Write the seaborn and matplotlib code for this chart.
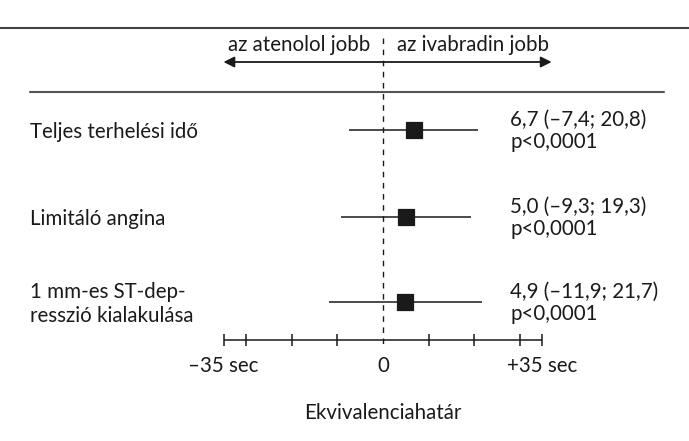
import matplotlib.pyplot as plt
import seaborn as sns
import pandas as pd

# forest plot data (sec)
labels = ['Teljes terhelési idő', 'Limitáló angina', '1 mm-es ST-dep-\nresszió kialakulása']
estimates = [6.7, 5.0, 4.9]
ci_low = [-7.4, -9.3, -11.9]
ci_high = [20.8, 19.3, 21.7]
pvals = ['p<0,0001', 'p<0,0001', 'p<0,0001']
ci_text = ['6,7 (–7,4; 20,8)', '5,0 (–9,3; 19,3)', '4,9 (–11,9; 21,7)']

axis_ticks = [-35, -30, -20, -10, 10, 20, 30, 35]
tick_labels = {-35: '–35 sec', 0: '0', 35: '+35 sec'}

sns.set_style('white')
plt.rcParams['font.family'] = ['Lato', 'DejaVu Sans']

row_y = [130, 217, 302]
df = pd.DataFrame({'label': labels, 'est': estimates, 'lo': ci_low, 'hi': ci_high, 'y': row_y})

fig = plt.figure(figsize=(6.89, 4.41), dpi=100)
ax = fig.add_axes([0, 0, 1, 1])
ppu = 4.557  # pixels per sec
ax.set_xlim(-383 / ppu, (689 - 383) / ppu)
ax.set_ylim(441, 0)
ax.axis('off')

fs = 14.8
ink = '#1a1a1a'

# frame lines
ax.plot([-383 / ppu, (689 - 383) / ppu], [28, 28], color='#444444', lw=1.5, clip_on=False)
ax.plot([(30 - 383) / ppu, (664 - 383) / ppu], [92, 92], color='#555555', lw=1.5)

# zero line
ax.vlines(0, 38, 345, colors=ink, linestyles=(0, (4, 4)), lw=1)

# direction arrow
ax.annotate('', xy=(-35, 62), xytext=(37, 62),
            arrowprops=dict(arrowstyle='<|-|>', color=ink, lw=1.3, mutation_scale=16, shrinkA=0, shrinkB=0))
ax.text(-2.8, 45, 'az atenolol jobb', ha='right', va='center', fontsize=fs, color=ink)
ax.text(3.0, 45, 'az ivabradin jobb', ha='left', va='center', fontsize=fs, color=ink)

# CI lines and point estimates
ax.hlines(df['y'], df['lo'], df['hi'], colors=ink, lw=1.1)
sns.scatterplot(data=df, x='est', y='y', marker='s', s=125, color=ink, edgecolor=ink, ax=ax, zorder=3)
ax.set_xlabel('')
ax.set_ylabel('')

for y, lab, ci, p in zip(row_y, labels, ci_text, pvals):
    ax.text((30 - 383) / ppu, y + 2, lab, ha='left', va='center', fontsize=fs, color=ink, linespacing=1.3)
    ax.text((510 - 383) / ppu, y - 10, ci, ha='left', va='center', fontsize=fs, color=ink)
    ax.text((510 - 383) / ppu, y + 12, p, ha='left', va='center', fontsize=fs, color=ink)

# equivalence axis
ax.hlines(340, -35, 35, colors=ink, lw=1.1)
ax.vlines(axis_ticks, 334, 346, colors=ink, lw=1.1)
for v, t in tick_labels.items():
    ax.text(v, 366, t, ha='center', va='center', fontsize=fs, color=ink)
ax.text(0, 413, 'Ekvivalenciahatár', ha='center', va='center', fontsize=fs, color=ink)

fig.savefig('out.png', dpi=100)
